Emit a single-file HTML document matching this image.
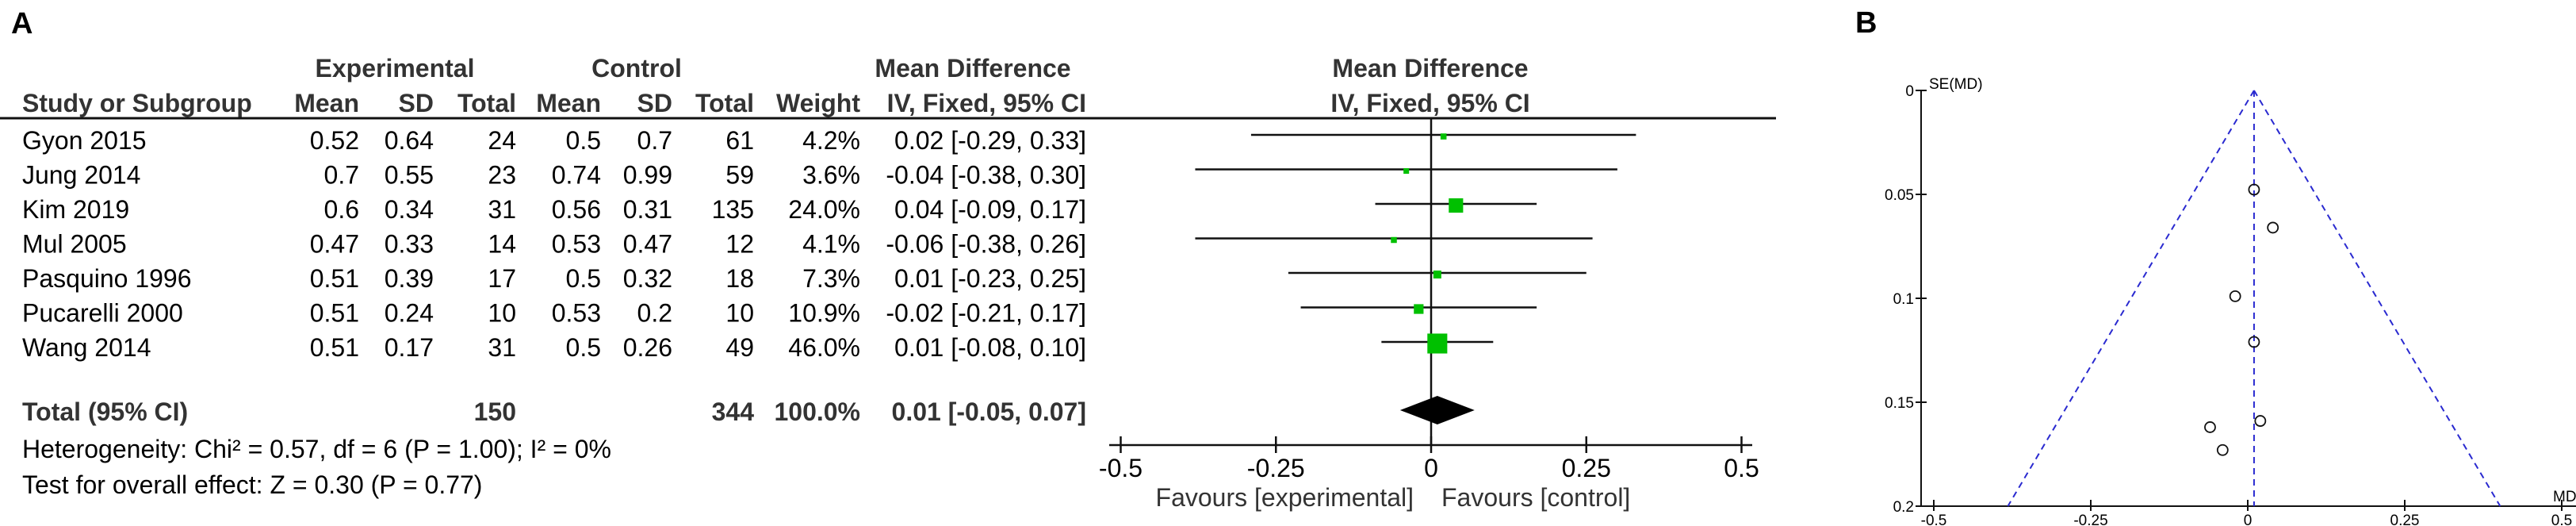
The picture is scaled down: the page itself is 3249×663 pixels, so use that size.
<!DOCTYPE html>
<html><head><meta charset="utf-8">
<style>
html,body{margin:0;padding:0;background:#fff;}
svg{display:block;font-family:"Liberation Sans",Arial,sans-serif;}
.h{font-weight:bold;fill:#333;font-size:32px;}
.d{fill:#000;font-size:32px;}
</style></head><body>
<svg id="fig" width="3249" height="663" viewBox="0 0 3249 663" xmlns="http://www.w3.org/2000/svg">
<text x="14" y="42" font-size="38" font-weight="bold">A</text>
<text x="2340" y="41" font-size="38" font-weight="bold">B</text>
<g id="table"></g>
<g id="forest"></g>
<g id="funnel"></g>
</svg>
<script>
const studies = ["Gyon 2015","Jung 2014","Kim 2019","Mul 2005","Pasquino 1996","Pucarelli 2000","Wang 2014"];
const expMean = ["0.52","0.7","0.6","0.47","0.51","0.51","0.51"];
const expSD = ["0.64","0.55","0.34","0.33","0.39","0.24","0.17"];
const expN = [24,23,31,14,17,10,31];
const ctlMean = ["0.5","0.74","0.56","0.53","0.5","0.53","0.5"];
const ctlSD = ["0.7","0.99","0.31","0.47","0.32","0.2","0.26"];
const ctlN = [61,59,135,12,18,10,49];
const weights = [4.2,3.6,24.0,4.1,7.3,10.9,46.0];
const md = [0.02,-0.04,0.04,-0.06,0.01,-0.02,0.01];
const ciLo = [-0.29,-0.38,-0.09,-0.38,-0.23,-0.21,-0.08];
const ciHi = [0.33,0.30,0.17,0.26,0.25,0.17,0.10];
const totalMD = 0.01, totalLo = -0.05, totalHi = 0.07;
const forestTicks = [-0.5,-0.25,0,0.25,0.5];
const forestTickLabels = ["-0.5","-0.25","0","0.25","0.5"];
const funnelSE = [0.159,0.173,0.066,0.162,0.121,0.099,0.0477];
const funnelMD = [0.02,-0.04,0.04,-0.06,0.01,-0.02,0.01];
const funnelXTicks = [-0.5,-0.25,0,0.25,0.5];
const funnelXLabels = ["-0.5","-0.25","0","0.25","0.5"];
const funnelYTicks = [0,0.05,0.1,0.15,0.2];
const funnelYLabels = ["0","0.05","0.1","0.15","0.2"];

const NS="http://www.w3.org/2000/svg";
function mk(parent,tag,attrs,text){const e=document.createElementNS(NS,tag);for(const k in attrs)e.setAttribute(k,attrs[k]);if(text!==undefined)e.textContent=text;parent.appendChild(e);return e;}
const T=document.getElementById('table'), F=document.getElementById('forest'), P=document.getElementById('funnel');

function ht(x,y,s,anchor,name){const e=mk(T,'text',{x:x,y:y,'class':'h','text-anchor':anchor},s);

return e;}
ht(498,97,'Experimental','middle','experimental-header');
ht(803,97,'Control','middle','control-header');
ht(1227,97,'Mean Difference','middle','md-header');
ht(1804,97,'Mean Difference','middle','plot-md-header');
ht(28,141,'Study or Subgroup','start','study-header');
ht(453,141,'Mean','end','exp-mean-header');
ht(547,141,'SD','end','exp-sd-header');
ht(651,141,'Total','end','exp-total-header');
ht(758,141,'Mean','end','ctl-mean-header');
ht(848,141,'SD','end','ctl-sd-header');
ht(951,141,'Total','end','ctl-total-header');
ht(1085,141,'Weight','end','weight-header');
ht(1370,141,'IV, Fixed, 95% CI','end','md-method-header');
ht(1804,141,'IV, Fixed, 95% CI','middle','plot-method-header');
const hl=mk(T,'line',{x1:0,y1:149,x2:2240,y2:149,stroke:'#111','stroke-width':3});



const rowY = i => 188 + i*43.5;
const fmt = v => (v<0?'-':'')+Math.abs(v).toFixed(2);
studies.forEach((s,i)=>{
  const y=rowY(i);
  const cols=[[28,s,'start'],[453,expMean[i],'end'],[547,expSD[i],'end'],[651,expN[i],'end'],[758,ctlMean[i],'end'],[848,ctlSD[i],'end'],[951,ctlN[i],'end'],[1085,weights[i].toFixed(1)+'%','end'],[1370,fmt(md[i])+' ['+fmt(ciLo[i])+', '+fmt(ciHi[i])+']','end']];
  cols.forEach((c,j)=>{const e=mk(T,'text',{x:c[0],y:y,'class':'d','text-anchor':c[2]},c[1]);
  
  });
});
const sumN1=expN.reduce((a,b)=>a+b,0), sumN2=ctlN.reduce((a,b)=>a+b,0);
[[28,'Total (95% CI)','start'],[651,String(sumN1),'end'],[951,String(sumN2),'end'],[1085,'100.0%','end'],[1370,fmt(totalMD)+' ['+fmt(totalLo)+', '+fmt(totalHi)+']','end']].forEach((c,j)=>{
  ht(c[0],530,c[1],c[2],'total-col-'+j);});
const he=mk(T,'text',{x:28,y:577,'class':'d'},'Heterogeneity: Chi² = 0.57, df = 6 (P = 1.00); I² = 0%');


const te=mk(T,'text',{x:28,y:622,'class':'d'},'Test for overall effect: Z = 0.30 (P = 0.77)');



const fx = v => 1805 + v*783;
const z=mk(F,'line',{x1:fx(0),y1:149,x2:fx(0),y2:560,stroke:'#111','stroke-width':2.5});


studies.forEach((s,i)=>{
  const y=rowY(i)-18;
  const l=mk(F,'line',{x1:fx(ciLo[i]),y1:y,x2:fx(ciHi[i]),y2:y,stroke:'#111','stroke-width':2.5});
  
  
  const sz=Math.max(7,3.7*Math.sqrt(weights[i]));
  const r=mk(F,'rect',{x:fx(md[i])-sz/2,y:y-sz/2+2,width:sz,height:sz,fill:'#00c000'});
  
  
});
const dy=517;
const dm=mk(F,'polygon',{points:`${fx(totalLo)},${dy} ${fx(totalMD)},${dy-18} ${fx(totalHi)},${dy} ${fx(totalMD)},${dy+18}`,fill:'#000'});


const ax=mk(F,'line',{x1:1399,y1:561,x2:2210,y2:561,stroke:'#111','stroke-width':2.5});


forestTicks.forEach((t,i)=>{
  const tk=mk(F,'line',{x1:fx(t),y1:550,x2:fx(t),y2:571,stroke:'#111','stroke-width':2.5});
  
  
  const lb=mk(F,'text',{x:fx(t),y:601,'class':'d','text-anchor':'middle'},forestTickLabels[i]);
  
  
});
const f1=mk(F,'text',{x:1783,y:638,'text-anchor':'end','font-size':32,fill:'#333'},'Favours [experimental]');


const f2=mk(F,'text',{x:1818,y:638,'font-size':32,fill:'#333'},'Favours [control]');



const px = v => 2835 + v*792;
const py = v => 114 + v*2620;
const ya=mk(P,'line',{x1:2423,y1:py(0),x2:2423,y2:py(0.2),stroke:'#111','stroke-width':2});


const xa=mk(P,'line',{x1:2423,y1:py(0.2),x2:3249,y2:py(0.2),stroke:'#111','stroke-width':2});


funnelYTicks.forEach((t,i)=>{
  const tk=mk(P,'line',{x1:2416,y1:py(t),x2:2430,y2:py(t),stroke:'#111','stroke-width':2});
  
  
  const lb=mk(P,'text',{x:2414,y:py(t)+7,'text-anchor':'end','font-size':19},funnelYLabels[i]);
  
  
});
funnelXTicks.forEach((t,i)=>{
  const tk=mk(P,'line',{x1:px(t),y1:py(0.2)-8,x2:px(t),y2:py(0.2)+6,stroke:'#111','stroke-width':2});
  
  
  const lb=mk(P,'text',{x:px(t),y:662,'text-anchor':'middle','font-size':19},funnelXLabels[i]);
  
  
});
const yt=mk(P,'text',{x:2433,y:112,'font-size':19},'SE(MD)');


const xt=mk(P,'text',{x:3220,y:632,'font-size':19},'MD');


const apexX=px(totalMD);
const dash={stroke:'#2a2ad0','stroke-width':2,'stroke-dasharray':'8,6',fill:'none'};
const fl=mk(P,'line',Object.assign({x1:apexX,y1:py(0),x2:px(totalMD-1.96*0.2),y2:py(0.2)},dash));


const fr=mk(P,'line',Object.assign({x1:apexX,y1:py(0),x2:px(totalMD+1.96*0.2),y2:py(0.2)},dash));


const fc=mk(P,'line',Object.assign({x1:apexX,y1:py(0),x2:apexX,y2:py(0.2)},dash));


funnelSE.forEach((se,i)=>{
  const c=mk(P,'circle',{cx:px(funnelMD[i]),cy:py(se),r:6.5,fill:'none',stroke:'#111','stroke-width':1.8});
  
  
});
</script>
</body></html>
